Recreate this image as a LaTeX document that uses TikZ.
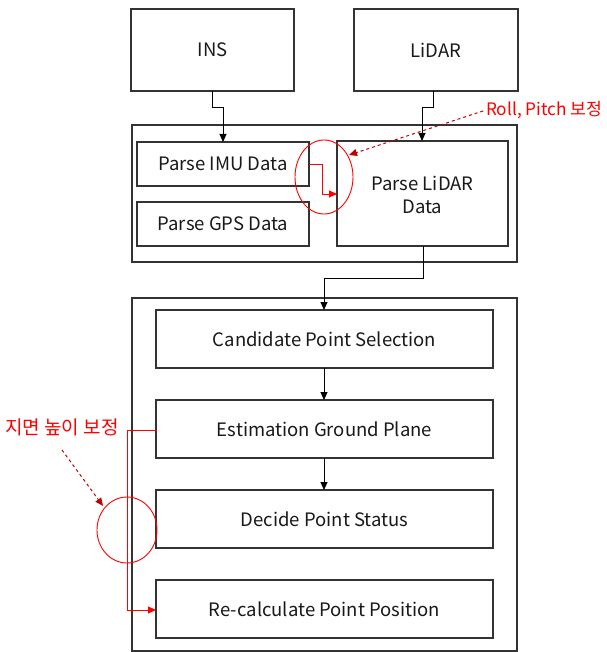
\documentclass[tikz,border=0pt]{standalone}
\usepackage{fontspec}
\setmainfont{Noto Sans CJK KR}
\usetikzlibrary{arrows.meta}
\begin{document}
\begin{tikzpicture}[x=1pt,y=-1pt,
  box/.style={draw=black!80,line width=1.2pt,fill=white},
  lbl/.style={font=\fontsize{18.5}{23}\selectfont,align=center,text=black!90},
  conn/.style={draw=black,line width=0.9pt,-{Triangle[length=8pt,width=7pt]}},
  rconn/.style={draw=red,line width=0.9pt,-{Triangle[length=8pt,width=7pt]}},
  rdash/.style={draw=red!75!black,line width=1pt,dashed,-{Triangle[length=8pt,width=7pt]}},
  ring/.style={draw=red,line width=0.9pt}]
\useasboundingbox (0,0) rectangle (606,652);
% top boxes
\draw[box] (131,9) rectangle (294,91);
\node[lbl] (ins) at (212.5,50) {INS};
\draw[box] (354,9) rectangle (518,91);
\node[lbl] (lidar) at (436,50) {LiDAR};
% top group
\draw[box] (132,125) rectangle (517,262);
\draw[box] (137,142) rectangle (309,186);
\node[lbl] (imu) at (223,164) {Parse IMU Data};
\draw[box] (137,202) rectangle (309,246);
\node[lbl] (gps) at (223,224) {Parse GPS Data};
\draw[box] (337,141) rectangle (508,246);
\node[lbl] (plidar) at (422.5,195) {Parse LiDAR\\Data};
\coordinate (insb) at (212,91);
\coordinate (imut) at (223,142);
\draw[conn] (insb) -- (212,107) -- (223,107) -- (imut);
\coordinate (lidb) at (433,91);
\coordinate (plt) at (422,141);
\draw[conn] (lidb) -- (433,107) -- (422,107) -- (plt);
\coordinate (imur) at (309,164);
\coordinate (pll) at (337,194);
\draw[rconn] (imur) -- (322,164) -- (322,194) -- (pll);
\draw[ring] (324,177) ellipse [x radius=29, y radius=37];
\node[font=\fontsize{17.2}{21}\selectfont,text=red,anchor=west,inner sep=0] (roll) at (486,110) {Roll, Pitch 보정};
\coordinate (rolltip) at (349,155);
\draw[rdash,shorten <=3pt] (roll.west) -- (rolltip);
% bottom group
\draw[box] (132,298) rectangle (517,651);
\draw[box] (156,310) rectangle (493,368);
\node[lbl] (cand) at (324.5,339) {Candidate Point Selection};
\draw[box] (156,400) rectangle (493,458);
\node[lbl] (est) at (324.5,429) {Estimation Ground Plane};
\draw[box] (156,490) rectangle (493,548);
\node[lbl] (dec) at (324.5,519) {Decide Point Status};
\draw[box] (156,580) rectangle (493,638);
\node[lbl] (rec) at (324.5,609) {Re-calculate Point Position};
\coordinate (plb) at (423,246);
\coordinate (candt) at (324,310);
\draw[conn] (plb) -- (423,278) -- (324,278) -- (candt);
\draw[conn] (324,368) -- (324,400);
\draw[conn] (324,458) -- (324,490);
\coordinate (estl) at (157,430);
\coordinate (recl) at (156,610);
\draw[rconn] (estl) -- (127,430) -- (127,610) -- (recl);
\draw[ring] (127,530) ellipse [x radius=30, y radius=33];
\node[font=\fontsize{19}{23}\selectfont,text=red,anchor=west,inner sep=0] (ground) at (5,427) {지면 높이 보정};
\coordinate (gs) at (62,450);
\coordinate (gt) at (103,506);
\draw[rdash] (gs) -- (gt);
\end{tikzpicture}
\end{document}
